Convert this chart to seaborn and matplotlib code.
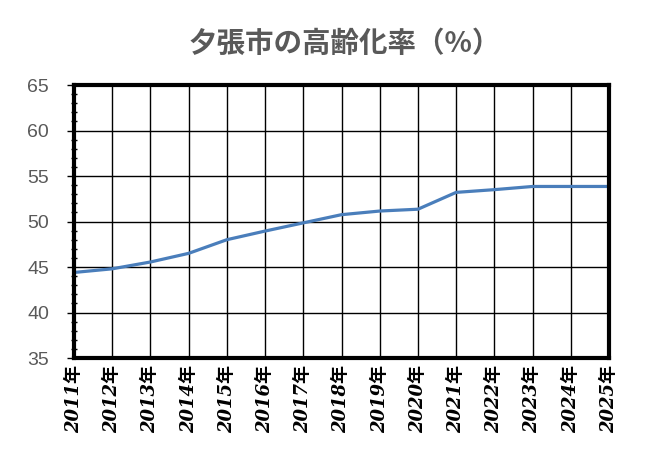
import matplotlib
matplotlib.use("Agg")
import matplotlib.pyplot as plt
from matplotlib.ticker import MultipleLocator
import seaborn as sns
import pandas as pd

years = [2011, 2012, 2013, 2014, 2015, 2016, 2017, 2018, 2019, 2020, 2021, 2022, 2023, 2024, 2025]
rates = [44.4, 44.8, 45.55, 46.5, 48.0, 48.95, 49.85, 50.75, 51.15, 51.35, 53.2, 53.5, 53.85, 53.85, 53.85]
year_labels = [f"{y}年" for y in years]
title = "夕張市の高齢化率（%）"

sns.set_theme(style="white")
plt.rcParams['font.family'] = ['DejaVu Sans', 'Noto Sans CJK JP']

df = pd.DataFrame({"year": years, "rate": rates})

fig = plt.figure(figsize=(6.53, 4.58), dpi=100)
ax = fig.add_axes([74/653, 100/458, 535/653, 273/458])
sns.lineplot(data=df, x="year", y="rate", ax=ax, color="#4a7ebb", linewidth=2.3)

ax.set_xlim(2011, 2025)
ax.set_ylim(35, 65)
ax.set_xticks(years)
ax.set_xticklabels(year_labels, rotation=90, family=['DejaVu Serif', 'Noto Sans CJK JP'],
                   style='italic', weight='bold', fontsize=13, color='black')
ax.yaxis.set_major_locator(MultipleLocator(5))
ax.yaxis.set_minor_locator(MultipleLocator(1))
for lbl in ax.get_yticklabels():
    lbl.set_fontsize(14)
    lbl.set_color('#595959')
    lbl.set_family(['Liberation Sans', 'DejaVu Sans'])

ax.grid(True, which='major', color='black', linewidth=1.0)
ax.set_axisbelow(True)
for s in ax.spines.values():
    s.set_visible(True)
    s.set_color('black')
    s.set_linewidth(3)

ax.tick_params(axis='y', which='major', direction='out', length=5, width=1, color='black', left=True, pad=13)
ax.tick_params(axis='y', which='minor', direction='inout', length=5, width=1, color='black', left=True)
ax.tick_params(axis='x', which='major', length=0, pad=5)
ax.set_xlabel("")
ax.set_ylabel("")

fig.text(0.528, 0.905, title, ha='center', va='center', fontsize=20.5, weight='bold',
         color='#595959', family=['Noto Sans CJK JP', 'DejaVu Sans'])

fig.savefig("out.png", dpi=100)
